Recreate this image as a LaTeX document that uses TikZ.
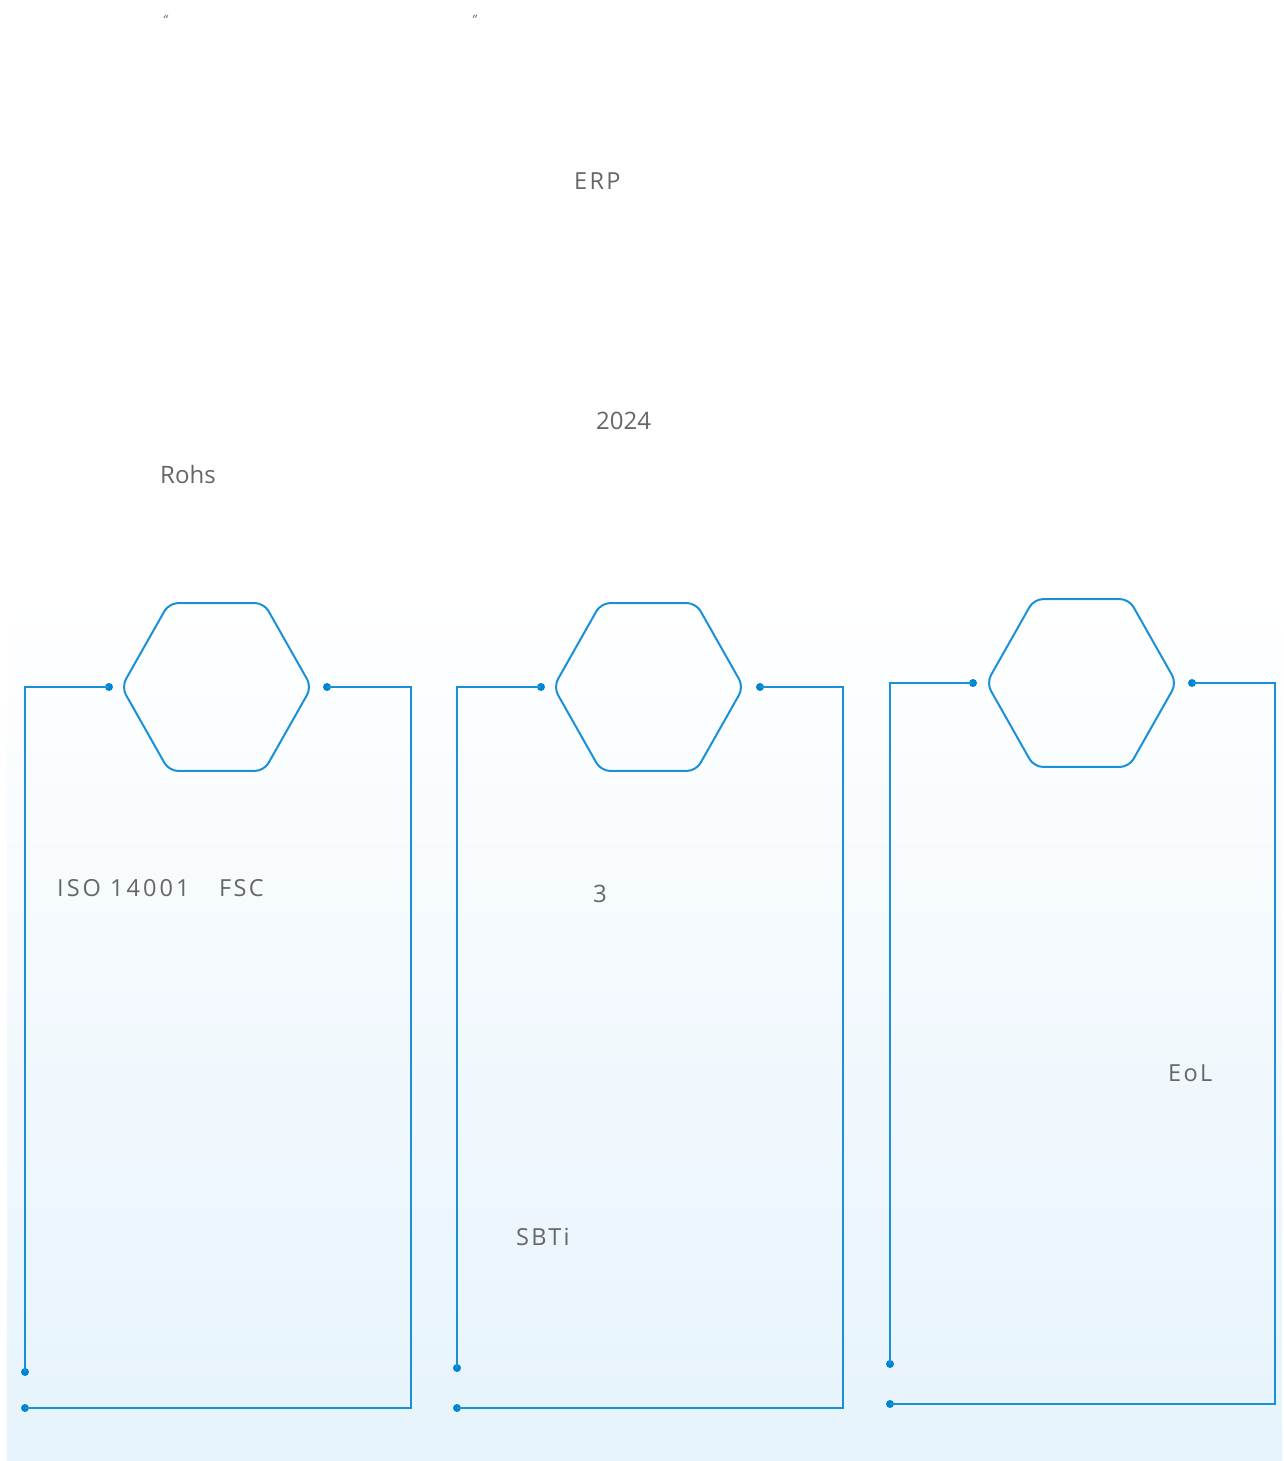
\documentclass[tikz,border=0pt]{standalone}
\usepackage{fontspec}
\setmainfont{Open Sans}
\usetikzlibrary{shapes.geometric}
\definecolor{lineblue}{HTML}{1A90D9}
\definecolor{dotblue}{HTML}{0086D1}
\definecolor{txtgray}{HTML}{666666}
\definecolor{bgblue}{HTML}{E6F3FC}
\tikzset{
  hexbox/.style={draw=lineblue, line width=2pt, regular polygon, regular polygon sides=6,
    minimum size=190pt, inner sep=0pt, rounded corners=9pt, yscale=1.02},
  dotpt/.style={circle, fill=dotblue, inner sep=0pt, minimum size=8pt},
  wire/.style={draw=lineblue, line width=2pt},
  lbl/.style={anchor=west, text=txtgray, inner sep=0pt, font=\fontsize{24}{28}\selectfont},
  slbl/.style={lbl, font=\fontsize{23.5}{28}\selectfont\addfontfeatures{LetterSpace=10}},
  wlbl/.style={lbl, font=\fontsize{23.5}{28}\selectfont\addfontfeatures{LetterSpace=13}},
  qlbl/.style={text=txtgray, inner sep=0pt, font=\fontsize{13}{14}\selectfont\itshape}
}
\begin{document}
\begin{tikzpicture}[x=1pt,y=-1pt]
\useasboundingbox (0,0) rectangle (1284,1461);
\shade[top color=white, bottom color=bgblue] (7,590) rectangle (1282,1461);

% top texts
\node[qlbl] (q1) at (165,20) {“};
\node[qlbl] (q2) at (474,20) {”};
\node[slbl] (erp) at (574,181) {ERP};
\node[lbl] (yr) at (596,421) {2024};
\node[lbl] (rohs) at (160,474) {Rohs};

% panel 1
\node[hexbox] (h1) at (216.5,687) {};
\node[dotpt] (d1a) at (109,687) {};
\node[dotpt] (d1b) at (25,1372) {};
\node[dotpt] (d1c) at (327,687) {};
\node[dotpt] (d1d) at (25,1408) {};
\coordinate (c1a) at (25,687);
\coordinate (c1b) at (411,687);
\coordinate (c1c) at (411,1408);
\draw[wire] (d1a.center) -- (c1a) -- (d1b.center);
\draw[wire] (d1c.center) -- (c1b) -- (c1c) -- (d1d.center);
\node[wlbl] (iso) at (57,888) {ISO 14001};
\node[slbl] (fsc) at (219,888) {FSC};

% panel 2
\node[hexbox] (h2) at (648.5,687) {};
\node[dotpt] (d2a) at (541,687) {};
\node[dotpt] (d2b) at (457,1368) {};
\node[dotpt] (d2c) at (760,687) {};
\node[dotpt] (d2d) at (457,1408) {};
\coordinate (c2a) at (457,687);
\coordinate (c2b) at (843,687);
\coordinate (c2c) at (843,1408);
\draw[wire] (d2a.center) -- (c2a) -- (d2b.center);
\draw[wire] (d2c.center) -- (c2b) -- (c2c) -- (d2d.center);
\node[lbl] (three) at (593,894) {3};
\node[slbl] (sbti) at (516,1237) {SBTi};

% panel 3
\node[hexbox] (h3) at (1081.5,683) {};
\node[dotpt] (d3a) at (973,683) {};
\node[dotpt] (d3b) at (890,1364) {};
\node[dotpt] (d3c) at (1192,683) {};
\node[dotpt] (d3d) at (890,1404) {};
\coordinate (c3a) at (890,683);
\coordinate (c3b) at (1275,683);
\coordinate (c3c) at (1275,1404);
\draw[wire] (d3a.center) -- (c3a) -- (d3b.center);
\draw[wire] (d3c.center) -- (c3b) -- (c3c) -- (d3d.center);
\node[slbl] (eol) at (1168,1073) {EoL};
\end{tikzpicture}
\end{document}
